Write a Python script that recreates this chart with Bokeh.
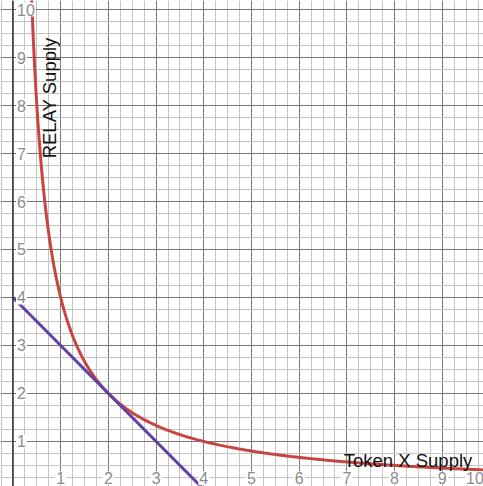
import numpy as np
from bokeh.plotting import figure
from bokeh.models import Range1d, Grid, FixedTicker, Span, ColumnDataSource
from bokeh.core.properties import value
from bokeh.embed import file_html
from bokeh.resources import INLINE

# ---- data ----
curve_k = 4.0                      # red curve: y = k / x
curve_x = np.linspace(0.38, 10.5, 400)
curve_y = curve_k / curve_x
line_x = [0.0, 4.0]                # purple tangent line
line_y = [4.0, 0.0]
x_ticks = [1, 2, 3, 4, 5, 6, 7, 8, 9, 10]
y_ticks = [1, 2, 3, 4, 5, 6, 7, 8, 9, 10]
x_tick_labels = [str(t) for t in x_ticks]
y_tick_labels = [str(t) for t in y_ticks]
major_grid = list(range(-1, 12))
minor_grid = list(np.arange(-1, 12, 0.25))
x_title = "Token X Supply"
y_title = "RELAY Supply"

X0, X1 = -0.262, 9.865
Y0, Y1 = 0.06, 10.19

p = figure(width=483, height=486, output_backend="svg", toolbar_location=None,
           x_range=Range1d(X0, X1), y_range=Range1d(Y0, Y1),
           x_axis_type=None, y_axis_type=None, min_border=0,
           outline_line_color=None, background_fill_color="white")
p.grid.visible = False

for dim in (0, 1):
    g = Grid(dimension=dim, ticker=FixedTicker(ticks=major_grid, minor_ticks=minor_grid),
             grid_line_color="#7a7a7a", grid_line_width=1,
             minor_grid_line_color="#c4c4c4", minor_grid_line_width=1)
    p.add_layout(g)

p.add_layout(Span(location=0, dimension="height", line_color="#333333", line_width=1.5))

p.line(curve_x, curve_y, line_color="#c74440", line_width=3)
p.line(line_x, line_y, line_color="#6042a6", line_width=3)

# tick labels (last x label nudged inward so it stays inside the frame)
x_offsets = [0] * (len(x_ticks) - 1) + [-15]
xs = ColumnDataSource(dict(x=x_ticks, y=[0.23] * len(x_ticks), t=x_tick_labels, dx=x_offsets))
p.text(x="x", y="y", text="t", source=xs, x_offset="dx", text_align="center",
       text_baseline="middle", text_font=value("Liberation Sans"), text_font_size="16px",
       text_color="#8c8c8c", background_fill_color="white", padding=1)
ys = ColumnDataSource(dict(x=[0.0] * len(y_ticks), y=y_ticks, t=y_tick_labels))
p.text(x="x", y="y", text="t", source=ys, text_align="left", text_baseline="middle",
       x_offset=3, text_font=value("Liberation Sans"), text_font_size="16px",
       text_color="#8c8c8c", background_fill_color="white", padding=1)

# axis titles
p.text(x=[9.63], y=[0.60], text=[x_title], text_align="right", text_baseline="alphabetic",
       text_font=value("Liberation Sans"), text_font_size="18.5px", text_color="#111111")
p.text(x=[0.765], y=[6.9], text=[y_title], angle=np.pi / 2, text_align="left",
       text_baseline="alphabetic", text_font=value("Liberation Sans"),
       text_font_size="18.5px", text_color="#111111")

open("out.html", "w").write(file_html(p, INLINE))
